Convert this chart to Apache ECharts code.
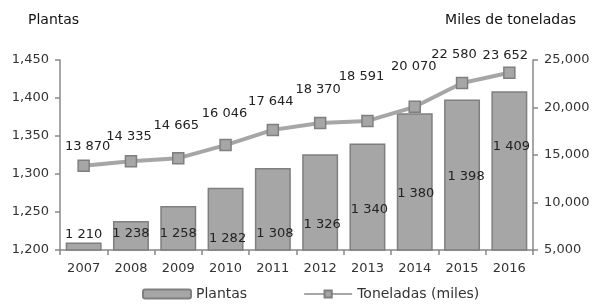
<!DOCTYPE html>
<html><head><meta charset="utf-8">
<script src="https://cdn.jsdelivr.net/npm/echarts@6/dist/echarts.min.js"></script>
<style>html,body{margin:0;padding:0;background:#fff}#c{width:596px;height:306px}</style>
</head><body><div id="c"></div>
<script>
const years = ['2007','2008','2009','2010','2011','2012','2013','2014','2015','2016'];
const plantas = [1210,1238,1258,1282,1308,1326,1340,1380,1398,1409];
const toneladas = [13870,14335,14665,16046,17644,18370,18591,20070,22580,23652];
const leftTicks = {min:1200, max:1450, interval:50};
const rightTicks = {min:5000, max:25000, interval:5000};

// label placement (styling, pixels)
const barLabelLift = [10,11,11,6,11,20,35,51,68,98];
const barLabelDx = [0,0,0,2,2,2,2,1,4,2];
const lineLabelOff = [[4,-19],[-2,-25],[-2,-33],[-1,-31],[-2,-28],[-2,-33],[-6,-44],[-1,-40],[-8,-28],[-4,-17]];

const sp = v => String(v).replace(/\B(?=(\d{3})+(?!\d))/g, ' ');
const cm = v => String(v).replace(/\B(?=(\d{3})+(?!\d))/g, ',');
const FONT = 'DejaVu Sans';
const axisCol = '#888888';

const chart = echarts.init(document.getElementById('c'), null, {renderer:'canvas'});
chart.setOption({
  animation:false,
  textStyle:{fontFamily:FONT},
  grid:{left:60,right:63,top:60,bottom:56},
  legend:{
    bottom:0, left:137, itemGap:56, itemWidth:48, itemHeight:9,
    textStyle:{fontFamily:FONT,fontSize:14,color:'#333'},
    data:[{name:'Plantas'},{name:'Toneladas (miles)', itemWidth:55}]
  },
  graphic:[
    {type:'text', left:28, top:13, style:{text:'Plantas', font:'14px "DejaVu Sans"', fill:'#111'}},
    {type:'text', right:20, top:13, style:{text:'Miles de toneladas', font:'14px "DejaVu Sans"', fill:'#111'}}
  ],
  xAxis:{
    type:'category', data:years, boundaryGap:true,
    axisLine:{lineStyle:{color:axisCol,width:1.5}},
    axisTick:{show:true, alignWithLabel:false, length:5, lineStyle:{color:axisCol,width:1.5}},
    axisLabel:{color:'#333', fontSize:13, margin:12, fontFamily:FONT}
  },
  yAxis:[
    {type:'value', min:leftTicks.min, max:leftTicks.max, interval:leftTicks.interval,
     splitLine:{show:false},
     axisLine:{show:true,lineStyle:{color:axisCol,width:1.5}},
     axisTick:{show:true,length:5,lineStyle:{color:axisCol,width:1.5}},
     axisLabel:{color:'#333',fontSize:13,margin:11,fontFamily:FONT,formatter:v=>cm(v)}},
    {type:'value', min:rightTicks.min, max:rightTicks.max, interval:rightTicks.interval,
     position:'right', splitLine:{show:false},
     axisLine:{show:true,lineStyle:{color:axisCol,width:1.5}},
     axisTick:{show:true,length:5,lineStyle:{color:axisCol,width:1.5}},
     axisLabel:{color:'#333',fontSize:13,margin:11,fontFamily:FONT,formatter:v=>cm(v)}}
  ],
  series:[
    {name:'Plantas', type:'bar', yAxisIndex:0, barCategoryGap:'24%',
     itemStyle:{color:'#a6a6a6', borderColor:'#7f7f7f', borderWidth:1.5},
     data: plantas.map((v,i)=>({value:v, label:{offset:[barLabelDx[i], -barLabelLift[i]]}})),
     label:{show:true, position:'insideBottom', distance:0, color:'#222', fontSize:13, fontFamily:FONT, formatter:p=>sp(p.value)}
    },
    {name:'Toneladas (miles)', type:'line', yAxisIndex:1, symbol:'rect', symbolSize:11,
     lineStyle:{color:'#a6a6a6', width:4},
     itemStyle:{color:'#a6a6a6', borderColor:'#7f7f7f', borderWidth:1.5},
     data: toneladas.map((v,i)=>({value:v, label:{offset:lineLabelOff[i]}})),
     label:{show:true, position:'inside', color:'#222', fontSize:13, fontFamily:FONT, formatter:p=>sp(p.value)},
     z:5
    }
  ]
});
</script></body></html>
